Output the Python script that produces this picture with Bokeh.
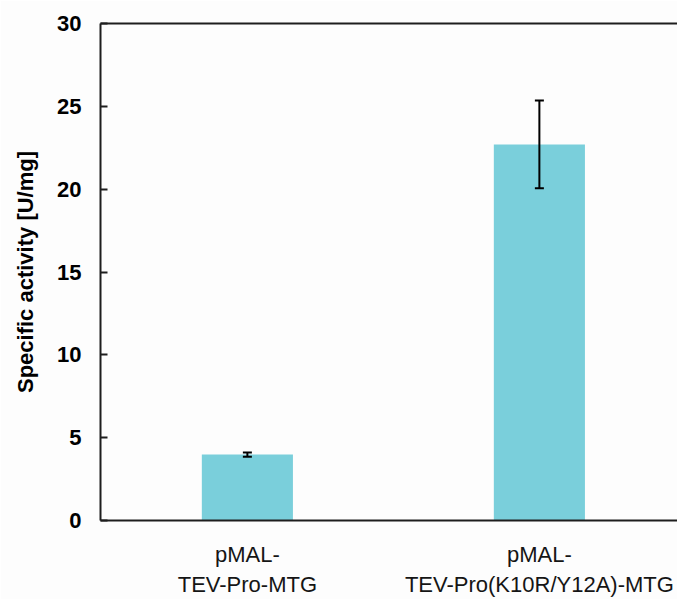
from bokeh.plotting import figure
from bokeh.models import (ColumnDataSource, Whisker, TeeHead, Range1d,
                          FixedTicker, LinearAxis)
from bokeh.embed import file_html
from bokeh.resources import INLINE

# ---- data ----
categories = ["pMAL-\nTEV-Pro-MTG", "pMAL-\nTEV-Pro(K10R/Y12A)-MTG"]
activity = [3.98, 22.7]
error = [0.13, 2.65]
y_ticks = [0, 5, 10, 15, 20, 25, 30]
y_label = "Specific activity [U/mg]"

idx = list(range(len(categories)))
src = ColumnDataSource(dict(
    x=idx,
    top=activity,
    upper=[a + e for a, e in zip(activity, error)],
    lower=[a - e for a, e in zip(activity, error)],
))

FONT = "Liberation Sans"
AX = "#1e1e1e"

p = figure(width=677, height=599,
           x_range=Range1d(-0.503, 1.473), y_range=Range1d(0, 30),
           output_backend="svg", toolbar_location=None,
           min_border_left=100, min_border_right=0,
           min_border_top=23, min_border_bottom=79,
           background_fill_color="#fdfdfd", border_fill_color="#fdfdfd")
p.outline_line_color = None
p.xgrid.visible = False
p.ygrid.visible = False

p.vbar(x="x", top="top", width=0.312, bottom=0, source=src,
       fill_color="#7acfdb", line_color=None)

w = Whisker(base="x", upper="upper", lower="lower", source=src,
            line_color="black", line_width=2, level="overlay",
            upper_head=TeeHead(size=9, line_width=2, line_color="black"),
            lower_head=TeeHead(size=9, line_width=2, line_color="black"))
p.add_layout(w)

# y axis
ya = p.yaxis[0]
ya.ticker = FixedTicker(ticks=y_ticks)
ya.minor_tick_line_color = None
ya.major_tick_in = 7
ya.major_tick_out = 0
ya.major_tick_line_width = 2
ya.major_tick_line_color = AX
ya.axis_line_width = 2
ya.axis_line_color = AX
ya.major_label_standoff = 19
ya.major_label_text_font = FONT
ya.major_label_text_font_style = "bold"
ya.major_label_text_font_size = "22px"
ya.major_label_text_color = "black"
ya.axis_label = y_label
ya.axis_label_text_font = FONT
ya.axis_label_text_font_style = "bold"
ya.axis_label_text_font_size = "22px"
ya.axis_label_text_color = "black"
ya.axis_label_standoff = 16

# x axis
xa = p.xaxis[0]
xa.ticker = FixedTicker(ticks=idx)
xa.major_label_overrides = {i: c for i, c in zip(idx, categories)}
xa.minor_tick_line_color = None
xa.major_tick_in = 0
xa.major_tick_out = 0
xa.axis_line_width = 2
xa.axis_line_color = AX
xa.major_label_standoff = 21
xa.major_label_text_font = FONT
xa.major_label_text_font_size = "22px"
xa.major_label_text_color = "#151515"

# top border line
top = LinearAxis(ticker=FixedTicker(ticks=[]), major_label_text_font_size="0px",
                 major_tick_in=0, major_tick_out=0, minor_tick_in=0,
                 minor_tick_out=0, axis_line_width=2, axis_line_color=AX,
                 major_label_standoff=0)
p.add_layout(top, "above")

open("out.html", "w").write(file_html(p, INLINE))
